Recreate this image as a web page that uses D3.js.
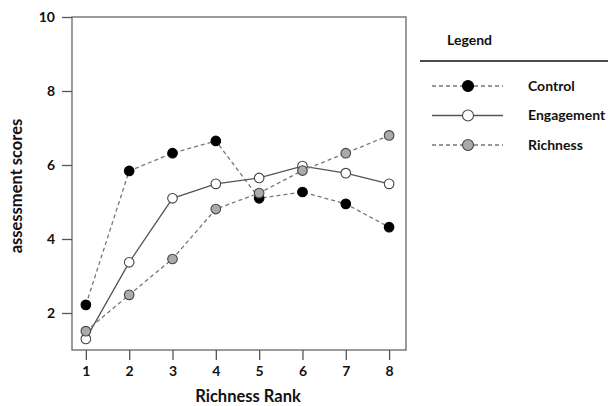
<!DOCTYPE html>
<html>
<head>
<meta charset="utf-8">
<script src="https://cdn.jsdelivr.net/npm/d3@7"></script>
<style>
  body { margin: 0; background: #fff; }
  svg text { font-family: Lato, "Open Sans", sans-serif; font-weight: 700; fill: #111; }
</style>
</head>
<body>
<svg id="chart" width="608" height="406"></svg>
<script>
const ranks = [1, 2, 3, 4, 5, 6, 7, 8];
const controlScores = [2.22, 5.84, 6.32, 6.65, 5.1, 5.27, 4.95, 4.32];
const engagementScores = [1.3, 3.37, 5.1, 5.49, 5.65, 5.97, 5.78, 5.49];
const richnessScores = [1.51, 2.49, 3.46, 4.81, 5.24, 5.85, 6.32, 6.8];
const yTicks = [2, 4, 6, 8, 10];

const series = [
  { name: "Control", values: controlScores, fill: "#000", dash: "4,3", line: "#777" },
  { name: "Engagement", values: engagementScores, fill: "#fff", dash: null, line: "#555" },
  { name: "Richness", values: richnessScores, fill: "#aaa", dash: "4,3", line: "#777" },
];

const svg = d3.select("#chart");
const box = { left: 72, top: 17, right: 406, bottom: 350 };

const x = d3.scaleLinear().domain([0.68, 8.39]).range([box.left, box.right]);
const y = d3.scaleLinear().domain([1, 10]).range([box.bottom, box.top]);

// frame
svg.append("rect")
  .attr("x", box.left).attr("y", box.top)
  .attr("width", box.right - box.left).attr("height", box.bottom - box.top)
  .attr("fill", "none").attr("stroke", "#666").attr("stroke-width", 1.3);

const yAxis = svg.append("g")
  .attr("transform", `translate(${box.left},0)`)
  .call(d3.axisLeft(y).tickValues(yTicks).tickSize(10).tickPadding(7));
yAxis.select(".domain").remove();
yAxis.selectAll("line").attr("stroke", "#555").attr("stroke-width", 1.3);
yAxis.selectAll("text").attr("font-size", 14).attr("fill", "#111");

const xAxis = svg.append("g")
  .attr("transform", `translate(0,${box.bottom})`)
  .call(d3.axisBottom(x).tickValues(ranks).tickFormat(d3.format("d")).tickSize(10).tickPadding(6));
xAxis.select(".domain").remove();
xAxis.selectAll("line").attr("stroke", "#555").attr("stroke-width", 1.3);
xAxis.selectAll("text").attr("font-size", 14).attr("fill", "#111");

svg.append("text")
  .attr("x", 248).attr("y", 402)
  .attr("text-anchor", "middle").attr("font-size", 16.5)
  .text("Richness Rank");

svg.append("text")
  .attr("transform", `translate(22,186) rotate(-90)`)
  .attr("text-anchor", "middle").attr("font-size", 16.5)
  .text("assessment scores");

const line = d3.line().x((d, i) => x(ranks[i])).y(d => y(d));

series.forEach(s => {
  svg.append("path")
    .attr("d", line(s.values))
    .attr("fill", "none")
    .attr("stroke", s.line)
    .attr("stroke-width", 1.3)
    .attr("stroke-dasharray", s.dash);
});

series.forEach(s => {
  svg.append("g")
    .selectAll("circle")
    .data(s.values)
    .join("circle")
    .attr("cx", (d, i) => x(ranks[i]))
    .attr("cy", d => y(d))
    .attr("r", 4.8)
    .attr("fill", s.fill)
    .attr("stroke", s.fill === "#000" ? "#000" : "#444")
    .attr("stroke-width", 1.1);
});

// legend
const legend = svg.append("g");
legend.append("text").attr("x", 447).attr("y", 45).attr("font-size", 14).text("Legend");
legend.append("line")
  .attr("x1", 420).attr("x2", 608).attr("y1", 61).attr("y2", 61)
  .attr("stroke", "#111").attr("stroke-width", 1.3);

const entryY = d3.scalePoint().domain(series.map(s => s.name)).range([86, 145]);

const entries = legend.selectAll("g.entry")
  .data(series)
  .join("g")
  .attr("class", "entry")
  .attr("transform", d => `translate(0,${entryY(d.name)})`);

entries.append("line")
  .attr("x1", 432).attr("x2", 503)
  .attr("stroke", d => d.line).attr("stroke-width", 1.3)
  .attr("stroke-dasharray", d => d.dash);
entries.append("circle")
  .attr("cx", 468).attr("r", 5.5)
  .attr("fill", d => d.fill)
  .attr("stroke", d => d.fill === "#000" ? "#000" : "#444")
  .attr("stroke-width", 1.1);
entries.append("text")
  .attr("x", 528).attr("dy", "0.35em")
  .attr("font-size", 14)
  .text(d => d.name);
</script>
</body>
</html>
